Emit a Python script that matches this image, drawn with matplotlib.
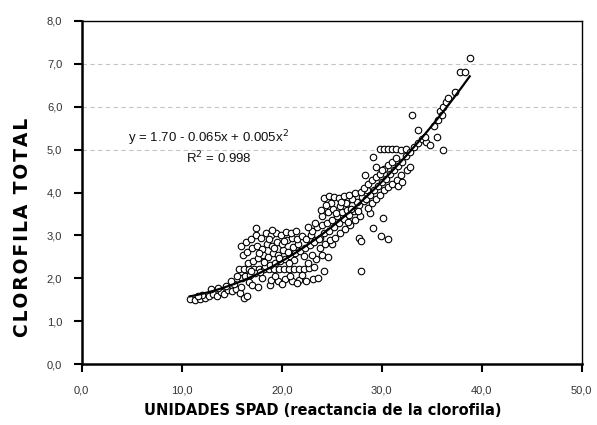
import numpy as np
import matplotlib
matplotlib.use("Agg")
import matplotlib.pyplot as plt

# ---- data ----
spad = [
    # lower tail
    10.8, 11.3, 11.8, 12.3, 12.0, 12.7, 13.1, 13.5, 13.9, 14.2, 14.6, 15.0, 15.4, 15.8, 16.2, 16.5,
    12.9, 14.4, 15.2, 15.9, 16.7, 13.6, 11.6, 14.9, 16.0, 15.5, 17.0, 18.8, 17.6,
    # row near 2.2
    15.7, 16.2, 16.7, 17.2, 17.7, 18.2, 18.7, 19.2, 19.7, 20.2, 20.7, 21.2, 21.7, 22.2, 22.7, 23.2, 24.2,
    # row near 2.0
    18.0, 18.9, 19.6, 20.3, 21.0, 21.7, 22.4, 23.1, 23.6, 19.3, 20.8, 22.0, 20.0, 21.5,
    # band 16-23
    16.3, 16.8, 17.3, 17.8, 18.3, 18.8, 19.3, 19.8, 20.3, 20.8, 21.3, 21.8, 22.3, 22.8,
    16.6, 17.1, 17.6, 18.1, 18.6, 19.1, 19.6, 20.1, 20.6, 21.1, 21.6,
    16.1, 16.5, 17.0, 17.5, 18.0, 18.5, 19.0, 19.5, 20.0, 20.5, 21.0, 21.5, 22.0,
    15.9, 16.4, 16.9, 17.4, 17.9, 18.4, 18.9, 19.4, 19.9, 20.4, 20.9, 21.4, 17.4, 19.0,
    22.4, 22.9, 23.3, 23.8,
    22.6, 23.4, 24.0, 24.6, 23.0, 25.0, 23.8,
    18.2, 19.7, 21.2, 17.7, 20.7, 22.2, 19.2, 16.9, 18.7, 20.2,
    # band 22-28
    23.2, 23.7, 24.2, 24.7, 25.2, 25.7, 26.2, 26.7, 27.2, 27.7, 28.2,
    23.0, 23.5, 24.0, 24.5, 25.0, 25.5, 26.0, 26.5, 27.0, 27.5, 28.0,
    24.3, 24.8, 25.3, 25.8, 26.3, 26.8, 27.3, 27.8,
    22.6, 23.3, 24.0, 24.6, 25.1, 25.8, 26.4, 27.0,
    24.2, 24.7, 25.2, 25.7, 26.2, 26.7, 27.3, 27.9, 28.5,
    28.8, 30.1, 29.1, 29.9, 27.7, 30.6, 27.9, 27.9,
    24.9, 25.9, 26.9, 25.4, 26.6, 27.6, 23.9, 24.4,
    # band 28-32
    28.4, 28.8, 29.2, 29.6, 30.0, 30.4, 30.8, 31.2, 31.6, 32.0,
    28.2, 28.6, 29.0, 29.4, 29.8, 30.2, 30.6, 31.0, 31.4,
    28.6, 29.0, 29.4, 29.8, 30.2, 30.6, 31.0, 31.5, 31.9,
    29.1, 29.4, 28.3,
    29.8, 30.2, 30.6, 31.0, 31.4, 31.9, 32.4,
    32.5, 32.8, 30.0, 31.6, 32.0,
    36.1,
    # upper end
    32.4, 32.8, 33.2, 33.6, 34.0, 34.4, 34.8, 34.3, 33.0, 33.6, 35.2, 35.6, 35.5,
    35.8, 36.1, 36.4, 36.6, 36.0, 37.3, 37.8, 38.3, 38.8,
]
clorofila = [
    1.52, 1.50, 1.53, 1.55, 1.61, 1.58, 1.64, 1.60, 1.68, 1.64, 1.72, 1.70, 1.76, 1.66, 1.55, 1.60,
    1.75, 1.82, 1.88, 1.80, 1.92, 1.78, 1.58, 1.95, 2.00, 2.05, 1.85, 1.85, 1.80,
    2.22, 2.22, 2.22, 2.22, 2.22, 2.22, 2.22, 2.22, 2.22, 2.22, 2.22, 2.22, 2.22, 2.22, 2.24, 2.26, 2.18,
    2.00, 1.96, 1.95, 1.98, 1.95, 1.97, 1.95, 1.98, 2.02, 2.05, 2.05, 2.08, 1.88, 1.90,
    2.05, 2.08, 2.12, 2.15, 2.28, 2.32, 2.35, 2.40, 2.45, 2.52, 2.58, 2.64, 2.70, 2.78,
    2.35, 2.40, 2.48, 2.55, 2.50, 2.60, 2.55, 2.65, 2.62, 2.72, 2.80,
    2.55, 2.62, 2.70, 2.75, 2.68, 2.80, 2.75, 2.85, 2.80, 2.90, 2.95, 2.92, 2.98,
    2.75, 2.85, 2.92, 3.00, 2.95, 3.05, 3.00, 3.05, 3.02, 3.08, 3.05, 3.10, 3.18, 3.12,
    2.92, 3.02, 2.90, 2.95,
    2.35, 2.45, 2.55, 2.50, 2.55, 2.80, 2.70,
    2.38, 2.48, 2.42, 2.58, 2.35, 2.52, 2.70, 2.18, 2.92, 2.88,
    2.85, 2.92, 3.05, 3.10, 3.20, 3.28, 3.38, 3.48, 3.58, 3.70, 3.80,
    3.10, 3.20, 3.25, 3.30, 3.35, 3.45, 3.55, 3.60, 3.70, 3.78, 3.90,
    2.80, 2.90, 2.95, 3.05, 3.15, 3.25, 3.35, 3.45,
    3.20, 3.30, 3.45, 3.55, 3.62, 3.68, 3.75, 3.85,
    3.88, 3.92, 3.90, 3.88, 3.92, 3.95, 3.98, 4.02, 4.05,
    3.52, 3.40, 3.17, 2.98, 2.94, 2.91, 2.87, 2.17,
    3.75, 3.78, 3.62, 3.52, 3.32, 3.58, 3.60, 3.70,
    3.85, 3.95, 4.05, 4.15, 4.25, 4.32, 4.42, 4.52, 4.62, 4.72,
    4.10, 4.20, 4.28, 4.35, 4.42, 4.55, 4.65, 4.72, 4.80,
    3.65, 3.75, 3.85, 3.95, 4.05, 4.12, 4.20, 4.28, 4.40,
    4.83, 4.60, 4.40,
    5.02, 5.02, 5.02, 5.02, 5.02, 5.00, 5.02,
    4.52, 4.60, 4.52, 4.15, 4.25,
    5.00,
    4.85, 4.95, 5.05, 5.15, 5.25, 5.18, 5.10, 5.30, 5.80, 5.45, 5.55, 5.68, 5.30,
    5.90, 6.00, 6.10, 6.20, 5.80, 6.35, 6.80, 6.80, 7.12,
]

fit_coef = [1.70, -0.065, 0.005]
fit_range = [10.8, 38.8]
x_ticks = [0, 10, 20, 30, 40, 50]
x_tick_labels = ["0,0", "10,0", "20,0", "30,0", "40,0", "50,0"]
y_ticks = [0, 1, 2, 3, 4, 5, 6, 7, 8]
y_tick_labels = ["0,0", "1,0", "2,0", "3,0", "4,0", "5,0", "6,0", "7,0", "8,0"]
grid_levels = [5, 6, 7]

plt.rcParams['font.family'] = ['Liberation Sans', 'DejaVu Sans']

fig = plt.figure(figsize=(5.97, 4.25), dpi=100)
ax = fig.add_axes([0.1369, 0.1428, 0.8375, 0.8085])

for g in grid_levels:
    ax.axhline(g, color='#c4c4c4', lw=0.8, ls=(0, (4, 3)), zorder=0)

ax.scatter(spad, clorofila, s=22, facecolors='white', edgecolors='black',
           linewidths=0.8, zorder=2)

xf = np.linspace(fit_range[0], fit_range[1], 200)
yf = fit_coef[0] + fit_coef[1] * xf + fit_coef[2] * xf ** 2
ax.plot(xf, yf, color='black', lw=1.6, zorder=3)

ax.set_xlim(0, 50)
ax.set_ylim(0, 8)
ax.set_xticks(x_ticks)
ax.set_xticklabels(x_tick_labels)
ax.set_yticks(y_ticks)
ax.set_yticklabels(y_tick_labels)
ax.tick_params(direction='out', length=6, width=1.5, labelsize=8,
               labelcolor='#333333')
ax.tick_params(axis='x', pad=9)
ax.tick_params(axis='y', pad=8)

for s in ['left', 'bottom']:
    ax.spines[s].set_linewidth(1.8)
for s in ['top', 'right']:
    ax.spines[s].set_linewidth(1.0)

ax.text(4.6, 5.27, "y = 1.70 - 0.065x + 0.005x$^2$", fontsize=9.5, va='center',
        ha='left', color='#111111')
ax.text(13.7, 4.8, "R$^2$ = 0.998", fontsize=9.5, va='center', ha='center',
        color='#111111')

hs = "\u200a"
ylabel = hs.join("CLOROFILA TOTAL")
fig.text(0.037, 0.466, ylabel, rotation=90, fontsize=13.5,
         fontweight='bold', family='DejaVu Sans', ha='center', va='center')
fig.text(0.54, 0.035, "UNIDADES SPAD (reactancia de la clorofila)",
         fontsize=10.5, fontweight='bold', family='DejaVu Sans',
         ha='center', va='center')

fig.savefig("out.png", dpi=100)
